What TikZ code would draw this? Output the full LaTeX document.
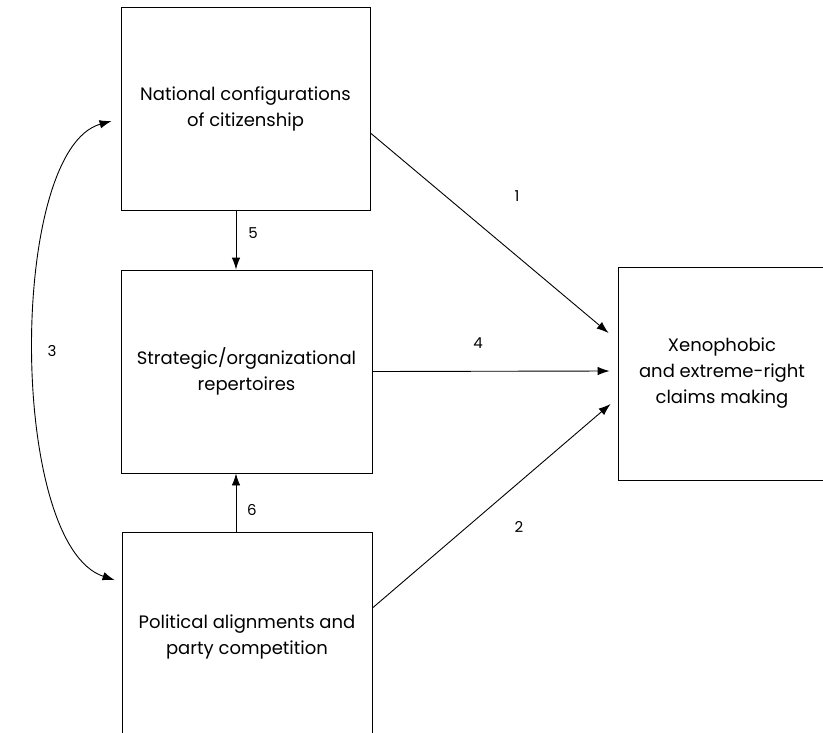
\documentclass[tikz,border=0pt]{standalone}
\usepackage{fontspec}
\setmainfont{Poppins}
\usetikzlibrary{arrows.meta,calc}
\begin{document}
\begin{tikzpicture}[x=1pt,y=-1pt,
  box/.style={draw,line width=0.9pt,rectangle,inner sep=0pt,align=center,
    font=\fontsize{18}{26}\selectfont},
  num/.style={font=\fontsize{15}{18}\selectfont,inner sep=0pt},
  arr/.style={line width=0.9pt,-{Latex[length=12pt,width=8.5pt]}},
  darr/.style={line width=0.9pt,{Latex[length=12pt,width=8.5pt]}-{Latex[length=12pt,width=8.5pt]}}]
\useasboundingbox (0,0) rectangle (823,732);
\clip (0,0) rectangle (823,732);
\node[box,minimum width=249pt,minimum height=203pt] (top) at (245.5,108.5) {National configurations\\of citizenship};
\node[box,minimum width=251pt,minimum height=203pt] (mid) at (246.5,371.5) {Strategic/organizational\\repertoires};
\node[box,minimum width=250pt,minimum height=210pt] (bot) at (247,637) {Political alignments and\\party competition};
\node[box,minimum width=208pt,minimum height=213pt] (res) at (722,373.5) {Xenophobic\\and extreme-right\\claims making};
% connector endpoints
\coordinate (a1s) at ($(top.east)+(0,24.5)$);
\coordinate (a1e) at ($(res.west)+(-9,-40.5)$);
\coordinate (a4s) at (mid.east);
\coordinate (a4e) at ($(res.west)+(-8,-2.5)$);
\coordinate (a2s) at ($(bot.east)+(0,-29)$);
\coordinate (a2e) at ($(res.west)+(-7,30.5)$);
\coordinate (a5s) at ($(top.south)+(-9.5,0)$);
\coordinate (a5e) at ($(mid.north)+(-10.5,0)$);
\coordinate (a6s) at ($(bot.north)+(-11,0)$);
\coordinate (a6e) at ($(mid.south)+(-10.5,0)$);
\coordinate (c3a) at ($(top.west)+(-9,12.5)$);
\coordinate (c3b) at ($(bot.west)+(-7,-57)$);
\draw[arr] (a1s) -- (a1e);
\draw[arr] (a4s) -- (a4e);
\draw[arr] (a2s) -- (a2e);
\draw[arr] (a5s) -- (a5e);
\draw[arr] (a6s) -- (a6e);
\draw[darr] (c3a) .. controls (8,150) and (8,545) .. (c3b);
\node[num] (n1) at (517,196) {1};
\node[num] (n4) at (478,343) {4};
\node[num] (n2) at (519,527) {2};
\node[num] (n5) at (253,233) {5};
\node[num] (n6) at (252,510) {6};
\node[num] (n3) at (52,351) {3};
\end{tikzpicture}
\end{document}
